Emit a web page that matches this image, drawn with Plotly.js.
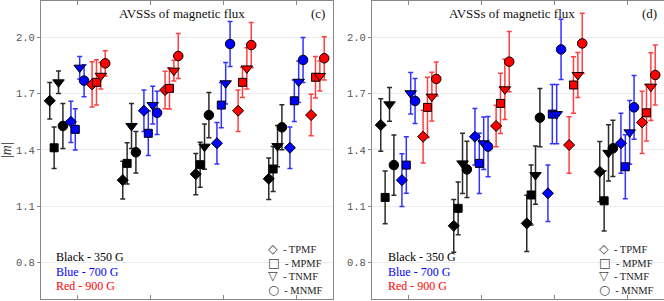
<!DOCTYPE html>
<html>
<head>
<meta charset="utf-8">
<script src="https://cdn.plot.ly/plotly-3.0.1.min.js"></script>
<style>html,body{margin:0;padding:0;background:#fff;}#chart{width:664px;height:301px;}</style>
</head>
<body>
<div id="chart"></div>
<script>
// ---------- data ----------
const groups = [1, 2, 3, 4];
const shapeNames = ['TPMF', 'MPMF', 'TNMF', 'MNMF'];
const colorLabels = ['Black - 350 G', 'Blue - 700 G', 'Red - 900 G'];
const panelTitle = 'AVSSs of magnetic flux';
const panelTags = ['(c)', '(d)'];
const yTicks = [0.8, 1.1, 1.4, 1.7, 2.0];

// values ordered: group1 [TPMF, MPMF, TNMF, MNMF], group2 [...], group3 [...], group4 [...]
// panel (c)
const c_black     = [1.661, 1.411, 1.759, 1.527,  1.239, 1.328, 1.527, 1.387,  1.271, 1.321, 1.417, 1.585,  1.246, 1.298, 1.420, 1.520];
const c_black_err = [0.097, 0.110, 0.060, 0.120,  0.100, 0.110, 0.120, 0.110,  0.110, 0.120, 0.120, 0.120,  0.110, 0.120, 0.110, 0.120];
const c_blue      = [1.549, 1.509, 1.837, 1.768,  1.608, 1.488, 1.638, 1.597,  1.435, 1.638, 1.754, 1.963,  1.411, 1.661, 1.762, 1.878];
const c_blue_err  = [0.110, 0.110, 0.060, 0.085,  0.110, 0.118, 0.100, 0.115,  0.110, 0.120, 0.110, 0.120,  0.110, 0.110, 0.110, 0.120];
const c_red       = [1.748, 1.759, 1.794, 1.860,  1.718, 1.727, 1.821, 1.899,  1.608, 1.759, 1.833, 1.957,  1.585, 1.786, 1.793, 1.887];
const c_red_err   = [0.120, 0.120, 0.070, 0.067,  0.100, 0.110, 0.055, 0.120,  0.110, 0.080, 0.110, 0.120,  0.110, 0.110, 0.080, 0.115];
// panel (d)
const d_black     = [1.532, 1.147, 1.642, 1.319,  0.996, 1.089, 1.328, 1.296,  1.009, 1.160, 1.266, 1.571,  1.284, 1.129, 1.384, 1.408];
const d_black_err = [0.140, 0.140, 0.090, 0.160,  0.140, 0.140, 0.160, 0.150,  0.150, 0.160, 0.155, 0.155,  0.160, 0.160, 0.150, 0.150];
const d_blue      = [1.239, 1.319, 1.701, 1.660,  1.470, 1.328, 1.435, 1.417,  1.169, 1.590, 1.590, 1.934,  1.435, 1.310, 1.493, 1.626];
const d_blue_err  = [0.140, 0.150, 0.110, 0.120,  0.150, 0.160, 0.140, 0.160,  0.150, 0.157, 0.157, 0.160,  0.160, 0.170, 0.170, 0.170];
const d_red       = [1.470, 1.626, 1.683, 1.777,  1.527, 1.647, 1.722, 1.869,  1.426, 1.745, 1.798, 1.966,  1.546, 1.597, 1.736, 1.798];
const d_red_err   = [0.140, 0.160, 0.130, 0.090,  0.110, 0.160, 0.160, 0.160,  0.150, 0.150, 0.120, 0.160,  0.165, 0.150, 0.180, 0.160];

// ---------- styles ----------
const colorOffset = [-0.29, 0, 0.29];
const shapeOffset = [-0.09, -0.03, 0.03, 0.09];
const symbols = ['diamond', 'square', 'triangle-down', 'circle'];
const sizes = [8.5, 8, 10, 9.5];
const fills = ['#000000', '#0000ff', '#ff0000'];
const barColors = ['rgba(20,20,20,0.9)', 'rgba(0,0,255,0.8)', 'rgba(255,0,0,0.75)'];
const legendGlyphs = ['\u25C7', '\u25A1', '\u25BD', '\u25CB'];

const panels = [
  {vals: [c_black, c_blue, c_red], errs: [c_black_err, c_blue_err, c_red_err], xa: 'x', ya: 'y'},
  {vals: [d_black, d_blue, d_red], errs: [d_black_err, d_blue_err, d_red_err], xa: 'x2', ya: 'y2'}
];

const traces = [];
panels.forEach(p => {
  for (let c = 0; c < 3; c++) {
    const xs = [], sym = [], sz = [];
    groups.forEach(g => {
      for (let k = 0; k < 4; k++) {
        xs.push(g + colorOffset[c] + shapeOffset[k]);
        sym.push(symbols[k]);
        sz.push(sizes[k]);
      }
    });
    traces.push({
      type: 'scatter', mode: 'markers', xaxis: p.xa, yaxis: p.ya,
      x: xs, y: p.vals[c], showlegend: false, hoverinfo: 'skip',
      marker: {symbol: sym, size: sz, opacity: 1, color: fills[c], line: {color: '#000', width: 1}},
      error_y: {type: 'data', array: p.errs[c], visible: true, color: barColors[c], thickness: 1.5, width: 2.5}
    });
  }
});

// ---------- layout ----------
const L = 41, W = 623, T = 1, H = 298;
const px = v => (v - L) / W;
const py = v => (T + H - v) / H;

const xBase = {range: [0.5, 4.5], tickvals: groups, showticklabels: false, ticks: 'inside', ticklen: 4,
  tickcolor: '#888', showline: true, linecolor: '#888', linewidth: 1, mirror: 'ticks', showgrid: false, zeroline: false, fixedrange: true};
const yBase = {range: [0.6069, 2.1915], tickvals: yTicks, ticktext: yTicks.map(v => v.toFixed(1)),
  ticks: 'outside', ticklen: 3, tickcolor: '#888', showline: true, linecolor: '#888', linewidth: 1, mirror: true,
  showgrid: true, gridcolor: '#ececec', gridwidth: 1, zeroline: false,
  tickfont: {family: 'Liberation Mono, monospace', size: 10.5, color: '#555'}, fixedrange: true};

const annotations = [];
const serif = 'Liberation Serif';
const titleX = [181.5, 512], tagX = [317.5, 649.5], labX = [55, 386.7], symX = [267, 597.7];
const symbolLegend = shapeNames.map((n, k) =>
  '<span style="font-family:DejaVu Sans;font-size:12.5px;color:#444">' + legendGlyphs[k] + '</span>  - ' + n).join('<br>');
for (let i = 0; i < 2; i++) {
  annotations.push({xref: 'paper', yref: 'paper', x: px(titleX[i]), y: py(14), text: panelTitle, showarrow: false,
    xanchor: 'center', yanchor: 'middle', font: {family: serif, size: 13, color: '#111'}});
  annotations.push({xref: 'paper', yref: 'paper', x: px(tagX[i]), y: py(14), text: panelTags[i], showarrow: false,
    xanchor: 'center', yanchor: 'middle', font: {family: serif, size: 13, color: '#111'}});
  const labY = [256.7, 271.7, 285.7];
  for (let c = 0; c < 3; c++) {
    annotations.push({xref: 'paper', yref: 'paper', x: px(labX[i]), y: py(labY[c]), text: colorLabels[c], showarrow: false,
      xanchor: 'left', yanchor: 'middle', borderpad: 0, font: {family: serif, size: 12, color: fills[c]}});
  }
  annotations.push({xref: 'paper', yref: 'paper', x: px(symX[i]), y: py(268.5), text: symbolLegend,
    showarrow: false, xanchor: 'left', yanchor: 'middle', align: 'left', borderpad: 0,
    font: {family: serif, size: 10.5, color: '#222'}});
}
annotations.push({xref: 'paper', yref: 'paper', x: px(6), y: py(150), text: '|<i>m</i>|', showarrow: false, textangle: -90,
  xanchor: 'center', yanchor: 'middle', font: {family: serif, size: 14, color: '#333'}});

const layout = {
  width: 664, height: 301,
  margin: {l: L, r: 0, t: T, b: 2, pad: 0},
  paper_bgcolor: '#fff', plot_bgcolor: '#fff',
  showlegend: false,
  xaxis: Object.assign({}, xBase, {domain: [0, 292 / W], anchor: 'y'}),
  xaxis2: Object.assign({}, xBase, {domain: [331 / W, 1], anchor: 'y2'}),
  yaxis: Object.assign({}, yBase, {domain: [0, 1], anchor: 'x'}),
  yaxis2: Object.assign({}, yBase, {domain: [0, 1], anchor: 'x2'}),
  annotations: annotations
};

Plotly.newPlot('chart', traces, layout, {displayModeBar: false, staticPlot: true});
</script>
</body>
</html>
